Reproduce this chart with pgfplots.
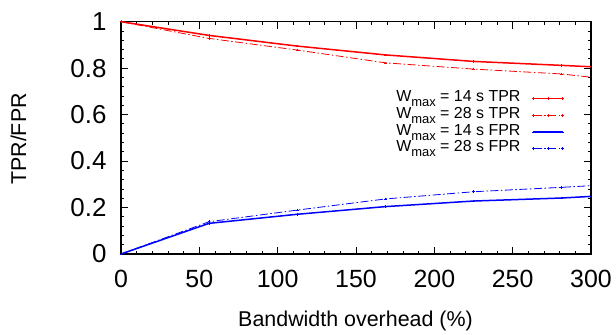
\documentclass[border=0pt]{standalone}
\usepackage{pgfplots}
\pgfplotsset{compat=1.18}
\usepackage{fontspec}
\setmainfont{Liberation Sans}
\newcommand{\Wmax}{W\raisebox{-5bp}{\fontsize{13}{13}\selectfont max}}
\begin{document}
\begin{tikzpicture}
\begin{axis}[
  scale only axis,
  width=470bp, height=232.3bp,
  xmin=0, xmax=300, ymin=0, ymax=1,
  xtick={0,50,...,300}, ytick={0,0.2,...,1},
  yticklabels={0,0.2,0.4,0.6,0.8,1},
  minor x tick num=4, minor y tick num=4,
  major tick length=7bp, minor tick length=3.5bp,
  tick style={line width=0.9bp, black},
  axis line style={line width=1.3bp},
  /pgf/number format/assume math mode=true,
  xticklabel style={font=\fontsize{25}{25}\selectfont, yshift=-13bp},
  yticklabel style={font=\fontsize{26}{26}\selectfont, xshift=-11bp},
  xlabel={Bandwidth overhead (\%)},
  ylabel={TPR/FPR},
  label style={font=\fontsize{21.5}{21.5}\selectfont},
  xlabel style={at={(axis description cs:0.499,-0.31)}, anchor=base},
  ylabel style={at={(axis description cs:-0.202,0.495)}, anchor=base},
  legend cell align=right,
  legend plot pos=right,
  legend style={draw=none, fill=none, inner sep=0pt, outer sep=0pt,
    at={(rel axis cs:0.9426,0.705)}, anchor=north east,
    font=\fontsize{16}{16}\selectfont,
    nodes={inner sep=0pt, text height=11.5bp, text depth=5.2bp},
    column sep=12bp},
  legend image code/.code={\draw[mark repeat=2,mark phase=2] plot coordinates {(0bp,0bp) (14.5bp,0bp) (29bp,0bp)};},
  every axis plot/.append style={mark=+, mark size=1.3bp, mark indices={1,2,3,4,5,6}},
]
\coordinate (bl) at (rel axis cs:0,0);
\addplot[color=red, line width=1.5bp, mark options={solid, line width=0.7bp}] coordinates {
 (0,1.0) (56.25,0.941) (112.5,0.895) (168.75,0.857) (225,0.829) (281.25,0.812) (300,0.806)};
\addlegendentry{\Wmax{} = 14 s TPR}
\addplot[color=red, line width=0.8bp, dash pattern=on 8bp off 2.5bp on 1.5bp off 2.5bp, mark options={solid, line width=0.5bp}] coordinates {
 (0,1.0) (56.25,0.928) (112.5,0.878) (168.75,0.823) (225,0.796) (281.25,0.775) (300,0.761)};
\addlegendentry{\Wmax{} = 28 s TPR}
\addplot[color=blue, line width=1.5bp, mark options={solid, line width=0.7bp}] coordinates {
 (0,0.0) (56.25,0.132) (112.5,0.171) (168.75,0.204) (225,0.228) (281.25,0.241) (300,0.248)};
\addlegendentry{\Wmax{} = 14 s FPR}
\addplot[color=blue, line width=0.8bp, dash pattern=on 8bp off 2.5bp on 1.5bp off 2.5bp, mark options={solid, line width=0.5bp}] coordinates {
 (0,0.0) (56.25,0.139) (112.5,0.189) (168.75,0.237) (225,0.268) (281.25,0.287) (300,0.294)};
\addlegendentry{\Wmax{} = 28 s FPR}
\end{axis}
\pgfresetboundingbox
\path (bl) ++(-121bp,-81bp) rectangle ++(616bp,335bp);
\end{tikzpicture}
\end{document}
